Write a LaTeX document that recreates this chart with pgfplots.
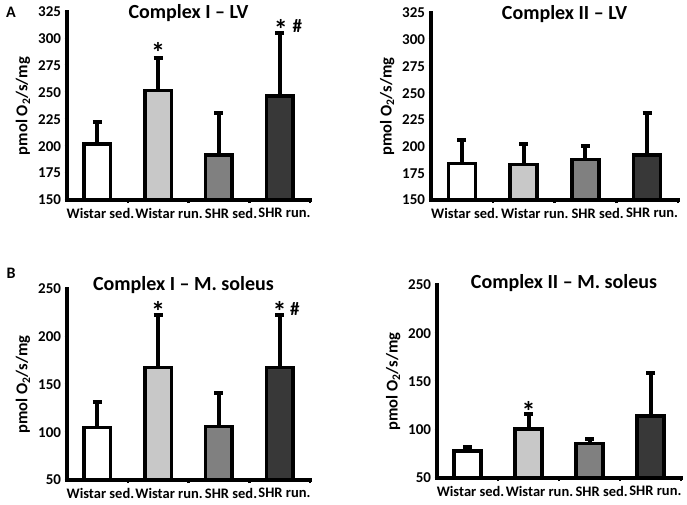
\documentclass[border=0pt]{standalone}
\usepackage{fontspec}
\setmainfont{Carlito}
\usepackage{pgfplots}
\pgfplotsset{compat=1.18}
\definecolor{cw}{RGB}{255,255,255}
\definecolor{cl}{RGB}{200,200,200}
\definecolor{cm}{RGB}{128,128,128}
\definecolor{cd}{RGB}{56,56,56}
\pgfplotsset{
  panel/.style={
    scale only axis,
    anchor=south west,
    xmin=-0.5, xmax=3.5,
    axis x line=bottom, axis y line=left,
    axis line style={-, line width=4pt, line cap=rect},
    xtick={0.05,1.18,2.2,3.08},
    xticklabels={Wistar sed.,Wistar run.,SHR sed.,SHR run.},
    major x tick style={draw=none},
    minor xtick={0.5,1.5,2.5,3.5},
    minor x tick style={line width=2.5pt, black},
    minor tick length=3pt,
    tick align=outside,
    major y tick style={line width=2.5pt, black},
    major tick length=2.5pt,
    /pgf/number format/assume math mode=true,
    ticklabel style={font=\fontsize{15}{15}\selectfont\bfseries},
    xticklabel style={font=\fontsize{14.5}{14.5}\selectfont\bfseries, yshift=-2pt},
    ylabel={pmol O\textsubscript{2}/s/mg},
    ylabel style={font=\fontsize{16.5}{16.5}\selectfont\bfseries, yshift=1pt},
    title style={font=\fontsize{20}{20}\selectfont\bfseries, at={(0.5,1)}, anchor=center},
    clip=false,
    ybar, bar width=0.44,
  },
  b/.style={draw=black, line width=3.5pt, bar shift=0pt, fill=#1,
    error bars/.cd, y dir=plus, y explicit,
    error bar style={line width=4pt, black},
    error mark=|,
    error mark options={line width=4pt, mark size=4.5pt, black}},
}
\tikzset{
  st/.style={font=\fontsize{28}{28}\selectfont\bfseries},
  hs/.style={font=\fontsize{19}{19}\selectfont\bfseries},
}
\begin{document}
\begin{tikzpicture}
\useasboundingbox (0,0) rectangle (687pt,504pt);
\node[font=\fontsize{16}{16}\selectfont\bfseries] at (11pt,492pt) {A};
\node[font=\fontsize{16}{16}\selectfont\bfseries] at (11pt,231pt) {B};
% A left
\begin{axis}[panel, at={(67pt,304pt)}, width=243pt, height=188pt,
  ymin=150, ymax=325, ytick={150,175,...,325}, title={Complex I – LV},
  title style={yshift=-7pt}]
\addplot+[b=cw] coordinates {(0,202) +- (0,21)};
\addplot+[b=cl] coordinates {(1,252) +- (0,30)};
\addplot+[b=cm] coordinates {(2,192) +- (0,39)};
\addplot+[b=cd] coordinates {(3,247) +- (0,58)};
\node[st] at (axis cs:1,287) {*};
\node[st] at (axis cs:3.02,309) {*};
\node[hs] at (axis cs:3.29,312) {\#};
\end{axis}
% A right
\begin{axis}[panel, at={(431pt,304pt)}, width=247pt, height=187pt,
  ymin=150, ymax=325, ytick={150,175,...,325}, title={Complex II – LV},
  title style={yshift=-7pt, xshift=10pt}]
\addplot+[b=cw] coordinates {(0,184) +- (0,22)};
\addplot+[b=cl] coordinates {(1,183) +- (0,19)};
\addplot+[b=cm] coordinates {(2,188) +- (0,13)};
\addplot+[b=cd] coordinates {(3,192) +- (0,39)};
\end{axis}
% B left
\begin{axis}[panel, at={(67pt,24pt)}, width=243pt, height=191pt,
  ymin=50, ymax=250, ytick={50,100,...,250}, title={Complex I – M. soleus},
  title style={yshift=-2pt, xshift=-5pt}]
\addplot+[b=cw] coordinates {(0,105) +- (0,27)};
\addplot+[b=cl] coordinates {(1,168) +- (0,55)};
\addplot+[b=cm] coordinates {(2,106) +- (0,35)};
\addplot+[b=cd] coordinates {(3,168) +- (0,55)};
\node[st] at (axis cs:1,226) {*};
\node[st] at (axis cs:3.0,226) {*};
\node[hs] at (axis cs:3.25,229) {\#};
\end{axis}
% B right
\begin{axis}[panel, at={(437pt,26pt)}, width=244pt, height=193pt,
  ymin=50, ymax=250, ytick={50,100,...,250}, title={Complex II – M. soleus},
  title style={yshift=-4pt, xshift=5pt}]
\addplot+[b=cw] coordinates {(0,78) +- (0,4)};
\addplot+[b=cl] coordinates {(1,101) +- (0,15)};
\addplot+[b=cm] coordinates {(2,86) +- (0,4)};
\addplot+[b=cd] coordinates {(3,114) +- (0,45)};
\node[st] at (axis cs:1,119) {*};
\end{axis}
\end{tikzpicture}
\end{document}
